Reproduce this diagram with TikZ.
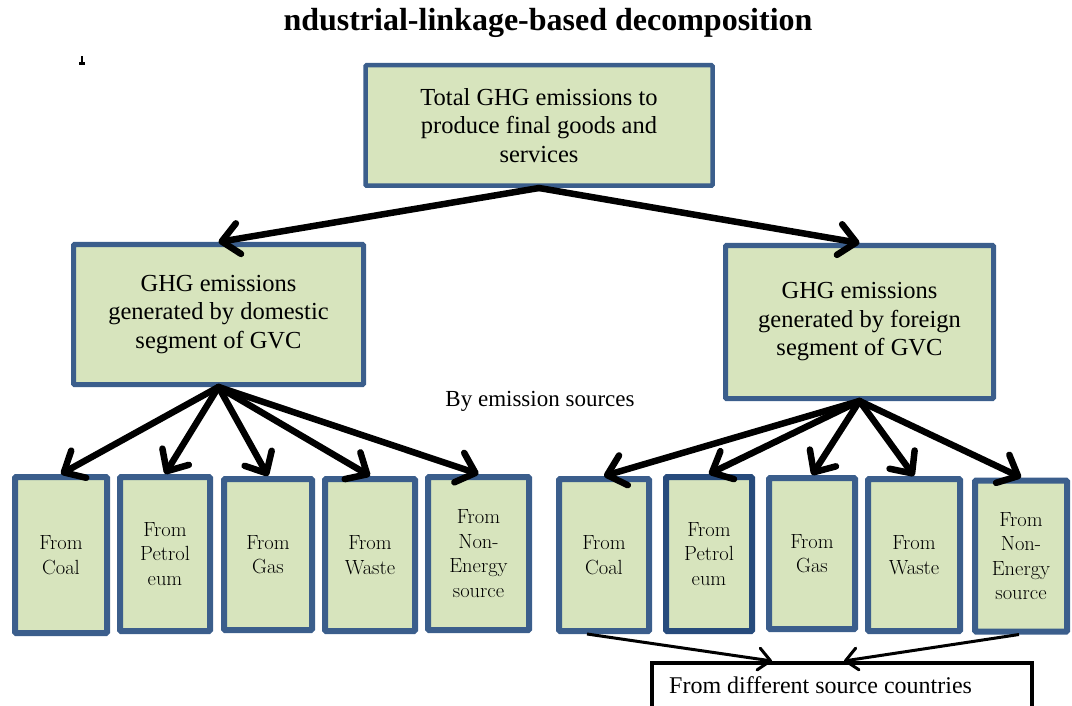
\documentclass[tikz,border=0pt]{standalone}
\usepackage{fontspec}
\newfontfamily\timesfont{Liberation Serif}
\usetikzlibrary{arrows.meta,calc}
\definecolor{boxfill}{HTML}{D7E4BD}
\definecolor{boxline}{HTML}{3B5E8C}
\definecolor{boxlinedark}{HTML}{274B7C}
\tikzset{
  gbox/.style={draw=boxline, fill=boxfill, rounded corners=1pt, inner sep=2pt, align=center},
  bigbox/.style={gbox, font=\timesfont\fontsize{24.5}{28.5}\selectfont},
  leaf/.style={gbox, line width=6pt, font=\fontsize{20.5}{24.5}\selectfont},
  mainarrow/.style={line width=6.5pt, line cap=round, -{Straight Barb[length=17pt,width=31pt,round]}},
  thinarrow/.style={line width=3pt, -{Straight Barb[length=12pt,width=22pt,round]}},
  plaintext/.style={font=\timesfont\fontsize{23}{27}\selectfont, inner sep=0pt},
}
\begin{document}
\begin{tikzpicture}[x=1pt,y=-1pt]
\useasboundingbox (0,0) rectangle (1072,706);
\clip (0,0) rectangle (1072,706);

% heading
\node[font=\timesfont\bfseries\fontsize{32}{36}\selectfont, anchor=base, inner sep=0pt]
  (title) at (548,31) {ndustrial-linkage-based decomposition};
% stray glyph fragment at the left margin
\fill (81,56) rectangle (83.3,63.5);
\fill (79.3,62) rectangle (85.3,64.8);

% top level
\node[bigbox, line width=4.5pt, minimum width=347, minimum height=120.5] (total) at (539,125.5)
  {Total GHG emissions to\\produce final goods and\\services};

% domestic / foreign segments
\node[bigbox, line width=5pt, minimum width=290, minimum height=140] (dom) at (218.5,314.5)
  {GHG emissions\\generated by domestic\\segment of GVC};
\node[bigbox, line width=5pt, minimum width=268, minimum height=153] (for) at (859.5,322)
  {GHG emissions\\generated by foreign\\segment of GVC};

\node[plaintext, anchor=base] (bysrc) at (540,406) {By emission sources};

% domestic sources
\node[leaf, minimum width=92,  minimum height=156] (dcoal)  at (61,555)    {From\\Coal};
\node[leaf, minimum width=90,  minimum height=154] (dpetr)  at (165,554)   {From\\Petrol\\eum};
\node[leaf, minimum width=88,  minimum height=151] (dgas)   at (268,554.5) {From\\Gas};
\node[leaf, minimum width=90,  minimum height=152] (dwaste) at (370,555)   {From\\Waste};
\node[leaf, minimum width=101, minimum height=153] (dnon)   at (478.5,553.5) {From\\Non-\\Energy\\source};

% foreign sources
\node[leaf, minimum width=90, minimum height=152] (fcoal)  at (604,555)   {From\\Coal};
\node[leaf, draw=boxlinedark, minimum width=86, minimum height=154] (fpetr)  at (709,554) {From\\Petrol\\eum};
\node[leaf, minimum width=86, minimum height=151] (fgas)   at (812,553.5) {From\\Gas};
\node[leaf, minimum width=92, minimum height=152] (fwaste) at (914,555)   {From\\Waste};
\node[leaf, minimum width=92, minimum height=151] (fnon)   at (1021,556)  {From\\Non-\\Energy\\source};

% source countries
\node[draw=black, line width=4pt, minimum width=380, minimum height=60, anchor=north west, inner sep=0pt]
  (dest) at (650,661) {};
\node[plaintext, font=\timesfont\fontsize{24}{28}\selectfont, anchor=base west] (destlabel) at (669,693)
  {From different source countries};

% connectors
\draw[mainarrow] (total.south) -- (dom.north);
\draw[mainarrow] (total.south) -- (for.north);

\foreach \t in {dcoal,dpetr,dgas,dwaste,dnon}
  \draw[mainarrow] (dom.south) -- (\t.north);
\foreach \t in {fcoal,fpetr,fgas,fwaste,fnon}
  \draw[mainarrow] (for.south) -- (\t.north);

\draw[thinarrow] ($(fcoal.south)+(-17,0)$) -- ($(dest.north)+(-70,0)$);
\draw[thinarrow] ($(fnon.south)+(-2,0)$) -- ($(dest.north)+(2,0)$);
\end{tikzpicture}
\end{document}
